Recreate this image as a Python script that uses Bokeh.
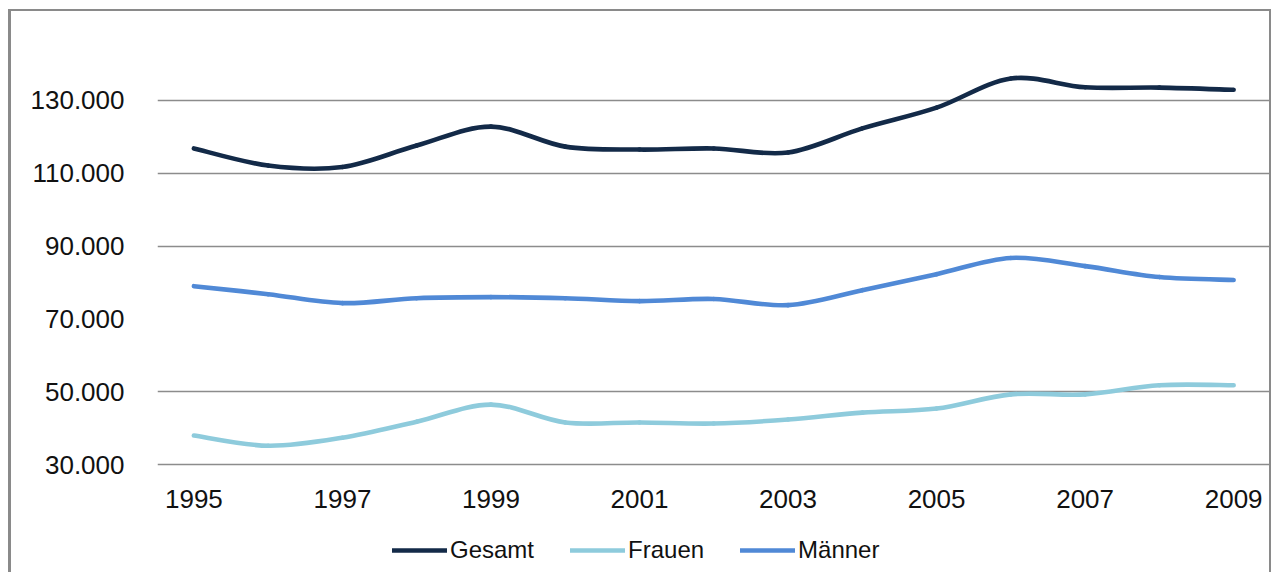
import numpy as np
from bokeh.plotting import figure
from bokeh.models import FixedTicker, Range1d, Legend, LegendItem
from bokeh.embed import file_html
from bokeh.resources import INLINE

# ---- data ----
years = [1995, 1996, 1997, 1998, 1999, 2000, 2001, 2002, 2003, 2004, 2005, 2006, 2007, 2008, 2009]
gesamt = [116800, 112100, 111700, 117600, 122800, 117300, 116500, 116800, 115700, 122300, 128000, 136000, 133600, 133500, 132900]
frauen = [38000, 35200, 37400, 41800, 46500, 41600, 41600, 41300, 42400, 44300, 45400, 49300, 49300, 51800, 51800]
maenner = [79000, 76800, 74350, 75700, 76000, 75700, 74900, 75500, 73800, 77900, 82300, 86750, 84500, 81500, 80700]
series_names = ["Gesamt", "Frauen", "Männer"]
series_colors = ["#132a48", "#8ecbdc", "#5089d6"]

y_ticks = [30000, 50000, 70000, 90000, 110000, 130000]
y_labels = ["30.000", "50.000", "70.000", "90.000", "110.000", "130.000"]
y_grid_ticks = [30000, 50000, 90000, 110000, 130000]
x_ticks = [1995, 1997, 1999, 2001, 2003, 2005, 2007, 2009]

FONT = "Liberation Sans"

p = figure(width=1263, height=563, output_backend="svg", toolbar_location=None,
           x_range=Range1d(1994.51, 2009.55), y_range=Range1d(-138, 150000),
           min_border_left=146, min_border_right=0, min_border_top=16, min_border_bottom=0)
p.styles = {"margin-left": "8px", "margin-top": "9px",
            "border-left": "3px solid #8a8a8a", "border-top": "2px solid #8a8a8a",
            "border-right": "2px solid #8a8a8a"}
p.outline_line_color = None
p.background_fill_color = "white"
p.border_fill_color = "white"

# axes
p.xaxis.ticker = FixedTicker(ticks=x_ticks)
p.xaxis.fixed_location = y_ticks[0]
p.yaxis.ticker = FixedTicker(ticks=y_ticks)
p.yaxis.major_label_overrides = {t: l for t, l in zip(y_ticks, y_labels)}
for ax in (p.xaxis, p.yaxis):
    ax.axis_line_color = None
    ax.major_tick_line_color = None
    ax.minor_tick_line_color = None
    ax.major_label_text_font = FONT
    ax.major_label_text_font_size = "26px"
    ax.major_label_text_color = "#111111"
p.xaxis.major_label_standoff = 19
p.yaxis.major_label_standoff = 27

p.xgrid.grid_line_color = None
p.ygrid.ticker = FixedTicker(ticks=y_grid_ticks)
p.ygrid.grid_line_color = "#8c8c8c"
p.ygrid.grid_line_width = 1.3


def smooth_segments(xs, ys):
    x = np.asarray(xs, dtype=float)
    y = np.asarray(ys, dtype=float)
    xp = np.concatenate([[x[0]], x, [x[-1]]])
    yp = np.concatenate([[y[0]], y, [y[-1]]])
    n = len(x) - 1
    i = np.arange(n) + 1
    cx0 = xp[i] + (xp[i + 1] - xp[i - 1]) / 6
    cy0 = yp[i] + (yp[i + 1] - yp[i - 1]) / 6
    cx1 = xp[i + 1] - (xp[i + 2] - xp[i]) / 6
    cy1 = yp[i + 1] - (yp[i + 2] - yp[i]) / 6
    return dict(x0=x[:-1], y0=y[:-1], x1=x[1:], y1=y[1:], cx0=cx0, cy0=cy0, cx1=cx1, cy1=cy1)


items = []
for name, vals, col in zip(series_names, [gesamt, frauen, maenner], series_colors):
    seg = smooth_segments(years, vals)
    r = p.bezier(x0="x0", y0="y0", x1="x1", y1="y1", cx0="cx0", cy0="cy0", cx1="cx1", cy1="cy1",
                 source=seg, line_color=col, line_width=4.6, line_cap="round")
    items.append(LegendItem(label=name, renderers=[r]))

legend = Legend(items=items, orientation="horizontal", location=(235, 10),
                border_line_color=None, background_fill_alpha=0, padding=0, margin=0,
                spacing=36, glyph_width=55, glyph_height=20, label_standoff=3,
                label_text_font=FONT, label_text_font_size="24px", label_text_color="#111111")
p.add_layout(legend)

open("out.html", "w").write(file_html(p, INLINE))
